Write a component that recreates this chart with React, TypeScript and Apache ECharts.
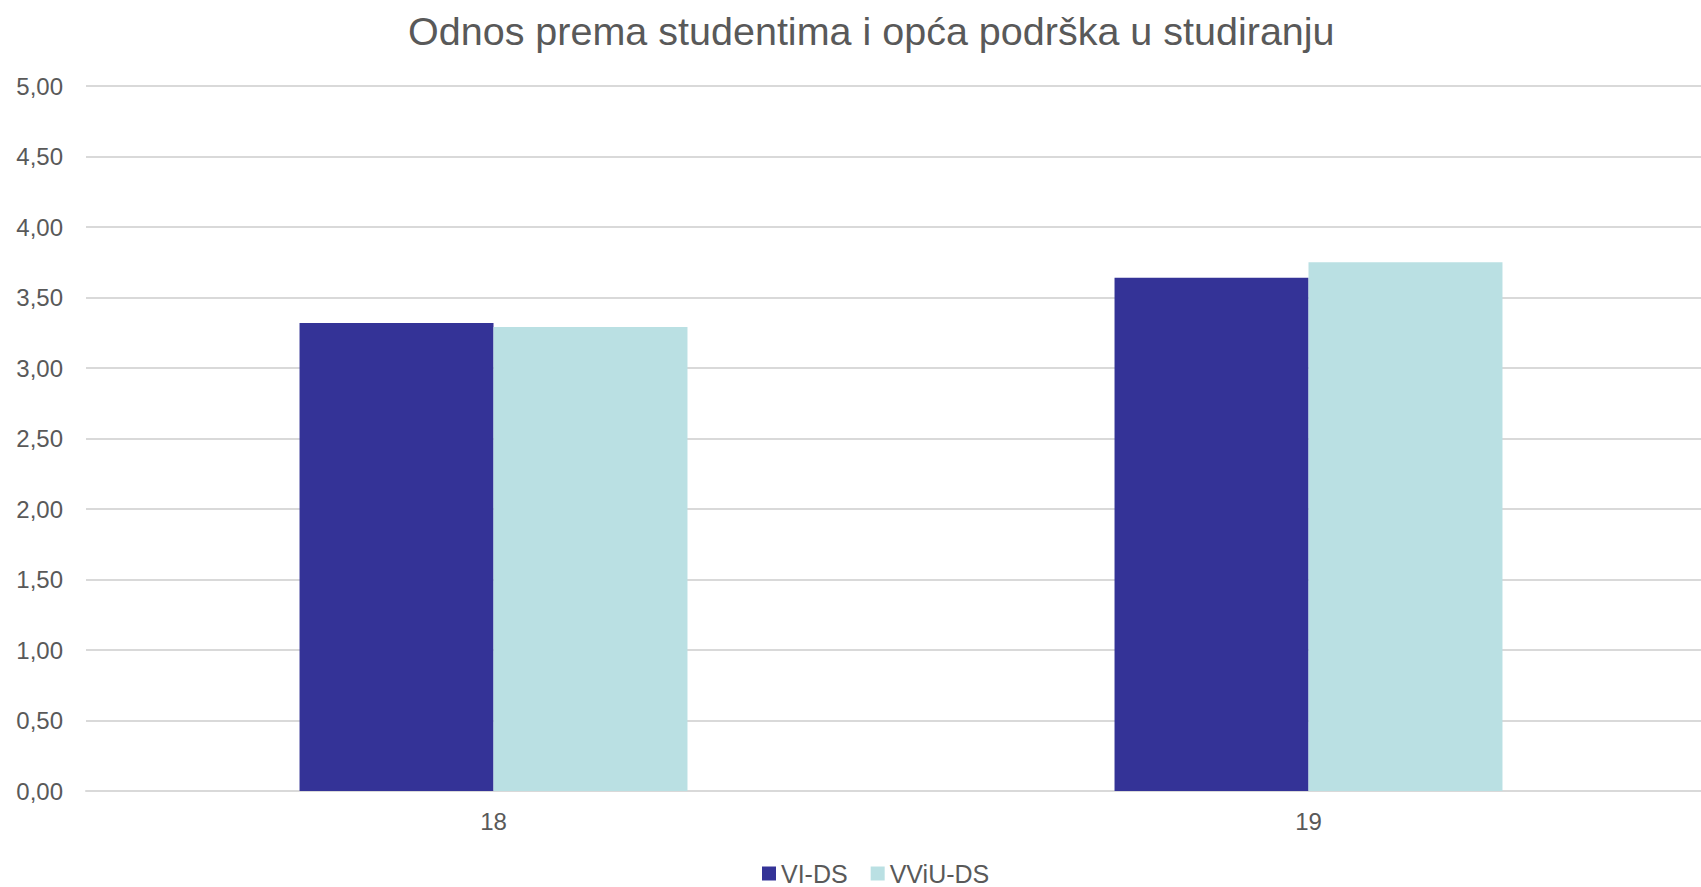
import React, { useEffect, useRef } from "react";
import * as echarts from "echarts";

const categories = ["18", "19"];
const seriesNames = ["VI-DS", "VViU-DS"];
const viDs = [3.32, 3.64];
const vviuDs = [3.29, 3.75];
const colors = ["#343397", "#BAE0E3"];

export default function App() {
  const ref = useRef<HTMLDivElement>(null);
  useEffect(() => {
    if (!ref.current) return;
    const chart = echarts.init(ref.current, undefined, { renderer: "svg" });
    const font = "'Liberation Sans', Arial, sans-serif";
    chart.setOption({
      animation: false,
      title: {
        text: "Odnos prema studentima i opća podrška u studiranju",
        left: 403,
        top: 6,
        textStyle: { fontFamily: font, fontSize: 39.5, fontWeight: "normal", color: "#595959" },
      },
      legend: {
        top: 861,
        left: 762,
        padding: 0,
        itemWidth: 14,
        itemHeight: 14,
        itemGap: 23,
        icon: "rect",
        textStyle: { fontFamily: font, fontSize: 25, color: "#595959" },
        data: seriesNames,
      },
      grid: { left: 86, right: -15, top: 86, bottom: 96, containLabel: false, outerBoundsMode: "none" },
      xAxis: {
        type: "category",
        data: categories,
        axisLine: { lineStyle: { color: "#D9D9D9", width: 2 } },
        axisTick: { show: false },
        axisLabel: { fontFamily: font, fontSize: 24, color: "#595959", margin: 18 },
      },
      yAxis: {
        type: "value",
        min: 0,
        max: 5,
        interval: 0.5,
        axisLine: { show: false },
        axisTick: { show: false },
        splitLine: { lineStyle: { color: "#D9D9D9", width: 2 } },
        axisLabel: {
          fontFamily: font,
          fontSize: 24,
          color: "#595959",
          margin: 23,
          formatter: (v: number) => v.toFixed(2).replace(".", ","),
        },
      },
      series: [
        {
          name: seriesNames[0],
          type: "bar",
          data: viDs,
          itemStyle: { color: colors[0] },
          barGap: "0%",
          barCategoryGap: "52.4%",
        },
        {
          name: seriesNames[1],
          type: "bar",
          data: vviuDs,
          itemStyle: { color: colors[1] },
          barGap: "0%",
          barCategoryGap: "52.4%",
        },
      ],
    });
    return () => chart.dispose();
  }, []);
  return (
    <div
      ref={ref}
      style={{ position: "absolute", left: 0, top: 0, width: 1701, height: 887, overflow: "hidden" }}
    />
  );
}
